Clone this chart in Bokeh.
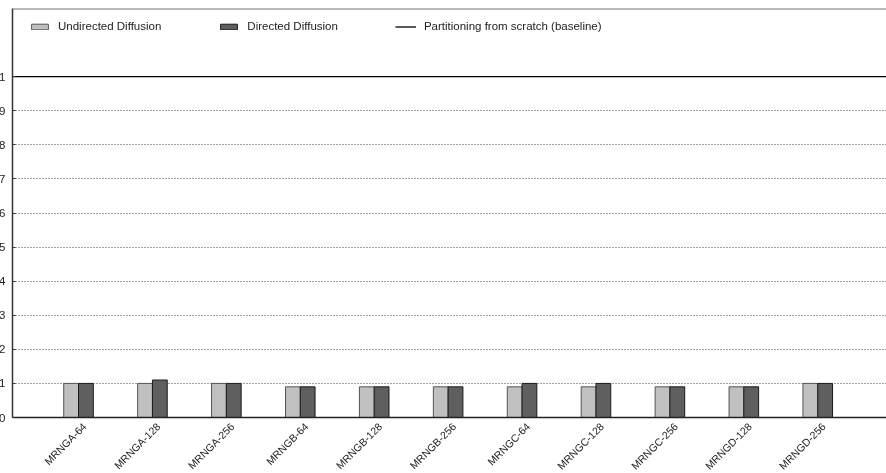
import math
import numpy as np
from bokeh.plotting import figure
from bokeh.models import FixedTicker, Span, Legend, LegendItem, Range1d
from bokeh.embed import file_html
from bokeh.resources import INLINE

# Graph instances on the x axis
graphs = ["MRNGA-64", "MRNGA-128", "MRNGA-256",
          "MRNGB-64", "MRNGB-128", "MRNGB-256",
          "MRNGC-64", "MRNGC-128", "MRNGC-256",
          "MRNGD-128", "MRNGD-256"]

# Cost relative to partitioning from scratch
undirected = [0.10, 0.10, 0.10, 0.09, 0.09, 0.09, 0.09, 0.09, 0.09, 0.09, 0.10]
directed = [0.10, 0.11, 0.10, 0.09, 0.09, 0.09, 0.10, 0.10, 0.09, 0.09, 0.10]
baseline = 1.0

y_ticks = [0, 0.1, 0.2, 0.3, 0.4, 0.5, 0.6, 0.7, 0.8, 0.9, 1]
y_tick_labels = ["0", "0.1", "0.2", "0.3", "0.4", "0.5", "0.6", "0.7", "0.8", "0.9", "1"]

FONT = "Liberation Sans"
FONT_SIZE = "11.5px"
LEFT_BORDER = 30
SHIFT = 18          # page offset of the figure's left edge
LABEL_NUDGE = 0.08  # category labels sit slightly right of the bar pair

xs = np.arange(1, len(graphs) + 1)
x_lo, x_hi = 0.107, 11.93
y_lo, y_hi = 0.0, 1.2

p = figure(frame_width=874, frame_height=409,
           x_range=Range1d(x_lo, x_hi), y_range=Range1d(y_lo, y_hi),
           output_backend="svg", toolbar_location=None,
           min_border_left=LEFT_BORDER, min_border_right=0,
           min_border_top=8, min_border_bottom=40)
p.styles = {"position": "fixed", "left": f"-{SHIFT}px", "top": "0px"}
p.outline_line_color = None
p.background_fill_color = "white"
p.border_fill_color = "white"

bar_w = 0.2
r_und = p.vbar(x=xs - bar_w / 2, top=undirected, width=bar_w,
               fill_color="#c0c0c0", line_color="#555555", line_width=1)
r_dir = p.vbar(x=xs + bar_w / 2, top=directed, width=bar_w,
               fill_color="#5f5f5f", line_color="#1a1a1a", line_width=1)
r_base = p.line(x=[x_lo, x_hi], y=[baseline, baseline],
                line_color="black", line_width=1.3)

# top border of the plot area
p.add_layout(Span(location=y_hi, dimension="width",
                  line_color="#777777", line_width=2))

# grid
p.xgrid.visible = False
p.ygrid.ticker = FixedTicker(ticks=y_ticks)
p.ygrid.grid_line_color = "#444444"
p.ygrid.grid_line_dash = "1 2"
p.ygrid.grid_line_width = 1

# y axis
p.yaxis.ticker = FixedTicker(ticks=y_ticks)
p.yaxis.major_label_overrides = {t: s for t, s in zip(y_ticks, y_tick_labels)}
p.yaxis.minor_tick_line_color = None
p.yaxis.major_tick_in = 3
p.yaxis.major_tick_out = 0
p.yaxis.major_tick_line_color = "#333333"
p.yaxis.axis_line_color = "#333333"
p.yaxis.axis_line_width = 1.5
p.yaxis.major_label_standoff = 7
p.yaxis.major_label_text_font = FONT
p.yaxis.major_label_text_font_size = FONT_SIZE
p.yaxis.major_label_text_color = "#222222"

# x axis
label_pos = [float(x) + LABEL_NUDGE for x in xs]
p.xaxis.ticker = FixedTicker(ticks=label_pos)
p.xaxis.major_label_overrides = {t: g for t, g in zip(label_pos, graphs)}
p.xaxis.major_label_orientation = math.pi / 4
p.xaxis.major_tick_line_color = None
p.xaxis.major_tick_in = 0
p.xaxis.major_tick_out = 0
p.xaxis.minor_tick_line_color = None
p.xaxis.axis_line_color = "#222222"
p.xaxis.axis_line_width = 1.5
p.xaxis.major_label_standoff = 7
p.xaxis.major_label_text_font = FONT
p.xaxis.major_label_text_font_size = "10.5px"
p.xaxis.major_label_text_color = "#222222"

legend = Legend(items=[
    LegendItem(label="Undirected Diffusion", renderers=[r_und]),
    LegendItem(label="Directed Diffusion", renderers=[r_dir]),
    LegendItem(label="Partitioning from scratch (baseline)", renderers=[r_base]),
], orientation="horizontal", location=(17, 385))
legend.padding = 0
legend.margin = 0
legend.spacing = 57
legend.glyph_width = 21
legend.glyph_height = 7
legend.label_height = 7
legend.label_standoff = 8
legend.border_line_color = None
legend.background_fill_alpha = 0
legend.label_text_font = FONT
legend.label_text_font_size = FONT_SIZE
legend.label_text_color = "#222222"
p.add_layout(legend)

open("out.html", "w").write(file_html(p, INLINE))
